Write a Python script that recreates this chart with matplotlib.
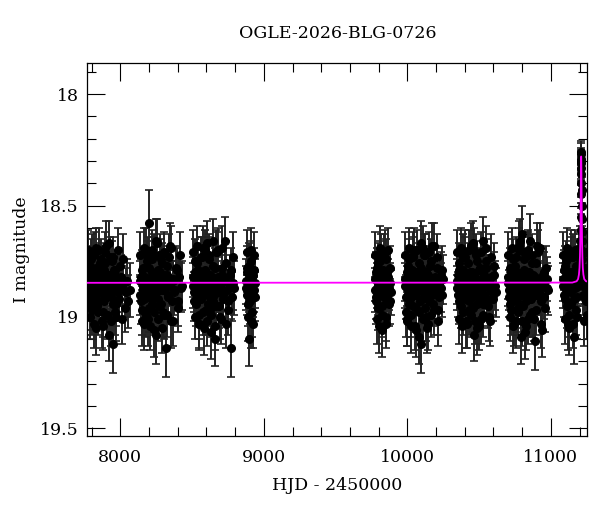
import numpy as np
import matplotlib.pyplot as plt
from matplotlib.ticker import MultipleLocator

plt.rcParams['font.family'] = ['DejaVu Serif']

# Photometry per observing season: (HJD - 2450000, I mag, error)
season_1 = [(7772, 18.85, 0.08), (7778, 18.79, 0.09), (7783, 18.92, 0.10), (7789, 18.88, 0.08),
            (7795, 18.74, 0.09), (7801, 18.83, 0.07), (7806, 18.97, 0.11), (7812, 18.86, 0.08),
            (7818, 18.81, 0.07), (7823, 18.90, 0.09), (7829, 18.78, 0.08), (7835, 18.95, 0.10),
            (7840, 18.84, 0.07), (7846, 18.87, 0.09), (7852, 18.70, 0.10), (7858, 18.89, 0.08),
            (7863, 18.82, 0.07), (7869, 19.02, 0.12), (7875, 18.85, 0.08), (7881, 18.80, 0.09),
            (7886, 18.93, 0.10), (7892, 18.76, 0.08), (7898, 18.88, 0.07), (7904, 18.84, 0.09),
            (7909, 18.99, 0.11), (7915, 18.81, 0.08), (7921, 18.86, 0.07), (7927, 18.73, 0.09),
            (7932, 18.91, 0.10), (7938, 18.83, 0.08), (7944, 18.87, 0.07), (7950, 19.12, 0.13),
            (7956, 18.79, 0.08), (7962, 18.85, 0.09), (7969, 18.94, 0.10), (7977, 18.82, 0.08),
            (7986, 18.89, 0.09), (7998, 18.77, 0.08), (8012, 18.86, 0.09), (8030, 18.96, 0.11),
            (8048, 18.84, 0.10), (8066, 18.88, 0.12),
            (7775, 18.81, 0.09), (7781, 18.90, 0.10), (7786, 18.86, 0.08), (7792, 18.77, 0.09),
            (7798, 18.95, 0.11), (7803, 18.84, 0.08), (7809, 18.88, 0.09), (7815, 18.72, 0.10),
            (7820, 18.92, 0.09), (7826, 18.83, 0.08), (7832, 19.05, 0.12), (7837, 18.87, 0.09),
            (7843, 18.80, 0.08), (7849, 18.93, 0.10), (7855, 18.85, 0.08), (7860, 18.76, 0.09),
            (7866, 18.89, 0.09), (7872, 18.82, 0.08), (7878, 18.98, 0.11), (7883, 18.86, 0.08),
            (7889, 18.79, 0.09), (7895, 18.91, 0.10), (7901, 18.68, 0.11), (7906, 18.87, 0.08),
            (7912, 18.84, 0.09), (7918, 19.08, 0.12), (7924, 18.81, 0.08), (7930, 18.90, 0.10),
            (7935, 18.85, 0.08), (7941, 18.75, 0.09), (7947, 18.94, 0.10), (7953, 18.83, 0.09),
            (7959, 18.88, 0.09), (7966, 18.79, 0.09), (7973, 19.00, 0.11), (7981, 18.86, 0.09),
            (7992, 18.92, 0.10), (8005, 18.82, 0.10), (8021, 18.74, 0.11), (8039, 18.89, 0.11),
            (8057, 18.93, 0.12),
            (7777, 18.70, 0.09), (7791, 19.00, 0.10), (7805, 18.72, 0.09), (7819, 19.03, 0.11),
            (7834, 18.69, 0.09), (7848, 18.98, 0.10), (7862, 18.74, 0.09), (7877, 19.04, 0.11),
            (7891, 18.71, 0.09), (7905, 18.99, 0.10), (7920, 18.67, 0.10), (7934, 19.02, 0.11),
            (7949, 18.73, 0.09), (7964, 18.98, 0.10), (7983, 18.70, 0.10), (8015, 19.01, 0.11)]
season_2 = [(8137, 18.90, 0.09), (8143, 18.82, 0.08), (8149, 18.97, 0.11), (8155, 18.86, 0.07),
            (8161, 18.78, 0.09), (8167, 18.92, 0.10), (8172, 18.84, 0.08), (8178, 18.88, 0.07),
            (8184, 18.75, 0.09), (8190, 19.01, 0.12), (8195, 18.83, 0.08), (8200, 18.58, 0.15),
            (8206, 18.87, 0.08), (8212, 18.91, 0.09), (8218, 18.80, 0.07), (8224, 18.94, 0.10),
            (8230, 18.85, 0.08), (8236, 18.72, 0.09), (8242, 18.89, 0.07), (8248, 19.08, 0.13),
            (8254, 18.83, 0.08), (8260, 18.86, 0.09), (8266, 18.79, 0.08), (8272, 18.95, 0.10),
            (8278, 18.88, 0.07), (8284, 18.74, 0.09), (8290, 18.84, 0.08), (8297, 18.98, 0.11),
            (8304, 18.81, 0.08), (8311, 18.87, 0.09), (8318, 19.14, 0.13), (8326, 18.77, 0.09),
            (8334, 18.90, 0.08), (8342, 18.85, 0.09), (8351, 18.69, 0.10), (8360, 18.93, 0.10),
            (8370, 18.83, 0.08), (8381, 18.88, 0.09), (8393, 18.79, 0.10), (8405, 18.96, 0.11),
            (8417, 18.72, 0.10), (8429, 18.86, 0.11),
            (8140, 18.84, 0.09), (8146, 18.93, 0.10), (8152, 18.79, 0.09), (8158, 18.88, 0.08),
            (8164, 19.03, 0.12), (8170, 18.82, 0.08), (8175, 18.87, 0.09), (8181, 18.70, 0.10),
            (8187, 18.91, 0.09), (8192, 18.85, 0.08), (8198, 18.78, 0.09), (8203, 18.96, 0.11),
            (8209, 18.83, 0.08), (8215, 18.89, 0.09), (8221, 18.74, 0.10), (8227, 18.86, 0.08),
            (8233, 19.06, 0.12), (8239, 18.81, 0.08), (8245, 18.90, 0.09), (8251, 18.84, 0.08),
            (8257, 18.67, 0.11), (8263, 18.92, 0.10), (8269, 18.87, 0.08), (8275, 18.80, 0.09),
            (8281, 18.94, 0.10), (8287, 18.83, 0.08), (8294, 18.76, 0.09), (8300, 18.88, 0.09),
            (8307, 18.99, 0.11), (8315, 18.85, 0.09), (8322, 18.81, 0.09), (8330, 18.91, 0.10),
            (8338, 18.73, 0.10), (8346, 18.86, 0.09), (8355, 19.02, 0.12), (8365, 18.84, 0.09),
            (8375, 18.89, 0.10), (8387, 18.78, 0.10), (8399, 18.93, 0.11), (8411, 18.82, 0.10),
            (8423, 18.87, 0.11),
            (8139, 18.72, 0.10), (8153, 19.02, 0.11), (8166, 18.69, 0.09), (8180, 18.99, 0.10),
            (8194, 18.73, 0.09), (8208, 19.04, 0.11), (8222, 18.70, 0.09), (8235, 18.98, 0.10),
            (8249, 18.66, 0.10), (8262, 19.01, 0.10), (8276, 18.72, 0.09), (8291, 19.05, 0.11),
            (8306, 18.71, 0.09), (8324, 18.99, 0.10), (8344, 18.68, 0.10), (8368, 19.02, 0.11)]
season_3 = [(8507, 18.86, 0.10), (8513, 18.93, 0.09), (8519, 18.80, 0.08), (8525, 18.88, 0.07),
            (8531, 18.76, 0.09), (8537, 18.91, 0.10), (8543, 18.84, 0.08), (8549, 18.99, 0.11),
            (8555, 18.82, 0.07), (8561, 18.87, 0.08), (8567, 18.73, 0.09), (8573, 18.90, 0.09),
            (8579, 18.85, 0.07), (8585, 19.05, 0.12), (8591, 18.79, 0.08), (8597, 18.88, 0.08),
            (8603, 18.67, 0.10), (8609, 18.94, 0.10), (8615, 18.83, 0.07), (8621, 18.87, 0.08),
            (8627, 18.81, 0.09), (8633, 18.96, 0.10), (8639, 18.85, 0.07), (8645, 18.77, 0.09),
            (8651, 18.90, 0.08), (8657, 19.10, 0.12), (8663, 18.84, 0.08), (8669, 18.71, 0.10),
            (8676, 18.89, 0.08), (8683, 18.82, 0.09), (8690, 18.95, 0.10), (8698, 18.86, 0.08),
            (8706, 18.78, 0.09), (8714, 18.92, 0.10), (8723, 18.84, 0.08), (8732, 18.66, 0.11),
            (8742, 18.88, 0.09), (8752, 18.97, 0.11), (8763, 18.81, 0.09), (8774, 19.14, 0.13),
            (8783, 18.73, 0.11), (8791, 18.87, 0.12),
            (8510, 18.82, 0.09), (8516, 18.89, 0.09), (8522, 18.75, 0.10), (8528, 18.94, 0.10),
            (8534, 18.85, 0.08), (8540, 18.79, 0.09), (8546, 19.03, 0.12), (8552, 18.87, 0.08),
            (8558, 18.81, 0.09), (8564, 18.92, 0.10), (8570, 18.84, 0.08), (8576, 18.69, 0.10),
            (8582, 18.90, 0.09), (8588, 18.86, 0.08), (8594, 18.97, 0.11), (8600, 18.80, 0.09),
            (8606, 18.88, 0.08), (8612, 18.83, 0.08), (8618, 18.74, 0.10), (8624, 18.91, 0.09),
            (8630, 19.07, 0.12), (8636, 18.85, 0.08), (8642, 18.82, 0.09), (8648, 18.93, 0.10),
            (8654, 18.87, 0.08), (8660, 18.78, 0.09), (8666, 18.95, 0.10), (8672, 18.84, 0.09),
            (8680, 18.70, 0.10), (8687, 18.89, 0.09), (8694, 18.86, 0.09), (8702, 19.01, 0.11),
            (8710, 18.81, 0.09), (8719, 18.90, 0.10), (8728, 18.84, 0.09), (8737, 18.76, 0.10),
            (8747, 18.93, 0.10), (8758, 18.87, 0.10), (8769, 18.79, 0.10), (8779, 18.91, 0.11),
            (8787, 18.85, 0.12),
            (8509, 18.71, 0.10), (8523, 19.00, 0.10), (8536, 18.68, 0.09), (8550, 19.03, 0.11),
            (8563, 18.73, 0.09), (8577, 18.98, 0.10), (8590, 18.70, 0.09), (8604, 19.02, 0.11),
            (8617, 18.72, 0.09), (8631, 18.99, 0.10), (8644, 18.66, 0.10), (8659, 19.04, 0.11),
            (8674, 18.71, 0.09), (8692, 19.00, 0.10), (8712, 18.69, 0.10), (8740, 19.03, 0.11)]
season_4 = [(8876, 18.84, 0.10), (8881, 18.90, 0.09), (8886, 18.78, 0.10), (8891, 18.87, 0.08),
            (8896, 19.10, 0.12), (8901, 18.82, 0.09), (8906, 18.93, 0.10), (8911, 18.75, 0.09),
            (8916, 18.86, 0.08), (8921, 18.98, 0.11), (8926, 18.81, 0.09), (8931, 18.88, 0.10),
            (8935, 18.72, 0.10), (8939, 18.91, 0.11),
            (8878, 18.87, 0.10), (8884, 18.80, 0.09), (8889, 18.94, 0.10), (8894, 18.84, 0.09),
            (8899, 18.77, 0.10), (8904, 18.89, 0.09), (8909, 18.86, 0.09), (8914, 19.02, 0.12),
            (8919, 18.82, 0.09), (8924, 18.90, 0.10), (8929, 18.79, 0.10), (8937, 18.85, 0.11),
            (8880, 18.71, 0.10), (8893, 19.00, 0.11), (8908, 18.70, 0.10), (8923, 19.03, 0.11)]
season_5 = [(9774, 18.88, 0.10), (9779, 18.80, 0.09), (9784, 18.93, 0.10), (9789, 18.84, 0.08),
            (9794, 18.76, 0.09), (9799, 18.90, 0.09), (9804, 19.04, 0.12), (9809, 18.83, 0.08),
            (9814, 18.87, 0.07), (9819, 18.72, 0.09), (9824, 18.95, 0.10), (9829, 18.85, 0.08),
            (9834, 18.79, 0.08), (9839, 18.91, 0.09), (9844, 18.86, 0.07), (9849, 19.00, 0.11),
            (9854, 18.74, 0.09), (9859, 18.88, 0.08), (9864, 18.82, 0.08), (9870, 18.94, 0.10),
            (9876, 18.85, 0.09), (9882, 18.78, 0.10), (9886, 18.89, 0.10),
            (9776, 18.83, 0.10), (9781, 18.91, 0.10), (9786, 18.78, 0.09), (9791, 18.87, 0.09),
            (9796, 18.96, 0.10), (9801, 18.82, 0.09), (9806, 18.86, 0.08), (9811, 18.75, 0.09),
            (9816, 18.90, 0.09), (9821, 18.84, 0.08), (9826, 19.06, 0.12), (9831, 18.80, 0.09),
            (9836, 18.88, 0.08), (9841, 18.85, 0.08), (9846, 18.71, 0.10), (9851, 18.92, 0.10),
            (9856, 18.83, 0.09), (9861, 18.89, 0.09), (9867, 18.79, 0.09), (9873, 18.87, 0.10),
            (9879, 18.93, 0.10),
            (9778, 18.72, 0.10), (9792, 19.01, 0.11), (9808, 18.69, 0.10), (9823, 18.99, 0.10),
            (9838, 18.73, 0.10), (9853, 19.03, 0.11), (9868, 18.70, 0.10)]
season_6 = [(9983, 18.86, 0.10), (9989, 18.98, 0.11), (9995, 18.80, 0.08), (10001, 19.01, 0.12),
            (10007, 18.88, 0.08), (10013, 18.74, 0.09), (10019, 18.92, 0.10), (10025, 18.84, 0.07),
            (10031, 18.79, 0.08), (10037, 18.95, 0.10), (10043, 18.87, 0.08), (10049, 18.70, 0.10),
            (10055, 18.90, 0.09), (10061, 19.06, 0.12), (10067, 18.83, 0.07), (10073, 18.88, 0.08),
            (10079, 18.76, 0.09), (10085, 18.93, 0.10), (10091, 18.85, 0.07), (10097, 19.12, 0.13),
            (10103, 18.81, 0.08), (10109, 18.89, 0.08), (10115, 18.72, 0.09), (10121, 18.96, 0.10),
            (10127, 18.86, 0.07), (10133, 18.80, 0.08), (10139, 18.91, 0.09), (10145, 19.03, 0.12),
            (10152, 18.84, 0.08), (10159, 18.77, 0.09), (10166, 18.88, 0.08), (10173, 18.68, 0.10),
            (10181, 18.94, 0.10), (10189, 18.83, 0.08), (10197, 18.89, 0.09), (10205, 18.78, 0.09),
            (10214, 18.97, 0.11), (10223, 18.85, 0.09), (10232, 18.81, 0.10), (10240, 18.90, 0.10),
            (10248, 18.83, 0.11),
            (9986, 18.83, 0.10), (9992, 18.91, 0.10), (9998, 18.86, 0.09), (10004, 18.77, 0.09),
            (10010, 18.94, 0.10), (10016, 18.82, 0.08), (10022, 18.88, 0.09), (10028, 19.04, 0.12),
            (10034, 18.85, 0.08), (10040, 18.72, 0.10), (10046, 18.90, 0.09), (10052, 18.84, 0.08),
            (10058, 18.80, 0.09), (10064, 18.96, 0.11), (10070, 18.87, 0.08), (10076, 18.82, 0.09),
            (10082, 19.09, 0.12), (10088, 18.86, 0.08), (10094, 18.78, 0.09), (10100, 18.92, 0.10),
            (10106, 18.85, 0.08), (10112, 18.69, 0.10), (10118, 18.89, 0.09), (10124, 18.83, 0.08),
            (10130, 19.00, 0.11), (10136, 18.87, 0.09), (10142, 18.81, 0.09), (10149, 18.93, 0.10),
            (10156, 18.85, 0.09), (10163, 18.75, 0.10), (10170, 18.90, 0.09), (10177, 18.86, 0.09),
            (10185, 18.97, 0.11), (10193, 18.82, 0.09), (10201, 18.88, 0.10), (10210, 18.73, 0.10),
            (10219, 18.91, 0.10), (10228, 18.84, 0.10), (10236, 18.87, 0.11), (10244, 18.79, 0.11),
            (9985, 18.72, 0.10), (9999, 19.02, 0.11), (10012, 18.69, 0.09), (10026, 18.99, 0.10),
            (10039, 18.73, 0.09), (10053, 19.04, 0.11), (10066, 18.70, 0.09), (10080, 18.98, 0.10),
            (10093, 18.67, 0.10), (10107, 19.01, 0.10), (10120, 18.72, 0.09), (10135, 19.05, 0.11),
            (10150, 18.71, 0.09), (10168, 18.99, 0.10), (10188, 18.68, 0.10), (10216, 19.02, 0.11)]
season_7 = [(10345, 18.87, 0.10), (10351, 18.81, 0.09), (10357, 18.93, 0.10), (10363, 18.76, 0.09),
            (10369, 18.89, 0.08), (10375, 18.84, 0.07), (10381, 19.04, 0.12), (10387, 18.79, 0.08),
            (10393, 18.90, 0.09), (10399, 18.85, 0.07), (10405, 18.71, 0.10), (10411, 18.92, 0.09),
            (10417, 18.83, 0.07), (10423, 18.88, 0.08), (10429, 18.97, 0.11), (10435, 18.80, 0.08),
            (10441, 18.86, 0.07), (10447, 18.68, 0.10), (10453, 18.91, 0.09), (10459, 18.84, 0.08),
            (10465, 19.08, 0.12), (10471, 18.82, 0.08), (10477, 18.87, 0.07), (10483, 18.75, 0.09),
            (10489, 18.94, 0.10), (10495, 18.85, 0.07), (10501, 18.79, 0.08), (10507, 18.89, 0.09),
            (10514, 19.01, 0.11), (10521, 18.83, 0.08), (10528, 18.66, 0.11), (10535, 18.90, 0.09),
            (10543, 18.86, 0.08), (10551, 18.78, 0.09), (10559, 18.95, 0.10), (10568, 18.84, 0.08),
            (10577, 18.88, 0.09), (10586, 18.73, 0.10), (10596, 18.92, 0.10), (10606, 18.81, 0.10),
            (10617, 18.89, 0.11),
            (10348, 18.84, 0.10), (10354, 18.90, 0.10), (10360, 18.79, 0.09), (10366, 18.87, 0.09),
            (10372, 18.95, 0.10), (10378, 18.82, 0.08), (10384, 18.86, 0.09), (10390, 18.73, 0.10),
            (10396, 18.91, 0.09), (10402, 18.85, 0.08), (10408, 19.02, 0.12), (10414, 18.81, 0.08),
            (10420, 18.88, 0.09), (10426, 18.76, 0.09), (10432, 18.93, 0.10), (10438, 18.84, 0.08),
            (10444, 18.87, 0.09), (10450, 18.80, 0.09), (10456, 18.96, 0.11), (10462, 18.85, 0.08),
            (10468, 18.70, 0.10), (10474, 18.89, 0.09), (10480, 18.83, 0.08), (10486, 19.05, 0.12),
            (10492, 18.86, 0.09), (10498, 18.91, 0.10), (10504, 18.78, 0.09), (10510, 18.84, 0.08),
            (10517, 18.88, 0.09), (10524, 18.94, 0.10), (10531, 18.81, 0.09), (10539, 18.86, 0.09),
            (10547, 18.75, 0.10), (10555, 18.92, 0.10), (10563, 18.85, 0.09), (10572, 19.00, 0.11),
            (10581, 18.82, 0.10), (10591, 18.89, 0.10), (10601, 18.77, 0.10), (10611, 18.86, 0.11),
            (10347, 18.71, 0.10), (10361, 19.01, 0.11), (10374, 18.69, 0.09), (10388, 18.98, 0.10),
            (10401, 18.73, 0.09), (10415, 19.03, 0.11), (10428, 18.70, 0.09), (10442, 18.99, 0.10),
            (10455, 18.67, 0.10), (10469, 19.02, 0.10), (10482, 18.72, 0.09), (10497, 19.04, 0.11),
            (10512, 18.71, 0.09), (10530, 18.99, 0.10), (10550, 18.69, 0.10), (10578, 19.02, 0.11)]
season_8 = [(10701, 18.85, 0.10), (10707, 18.91, 0.09), (10713, 18.78, 0.09), (10719, 18.88, 0.08),
            (10725, 18.97, 0.11), (10731, 18.82, 0.07), (10737, 18.74, 0.09), (10743, 18.89, 0.08),
            (10749, 18.84, 0.07), (10755, 19.02, 0.12), (10761, 18.80, 0.08), (10767, 18.93, 0.10),
            (10773, 18.86, 0.07), (10779, 18.70, 0.10), (10785, 18.90, 0.09), (10791, 18.83, 0.07),
            (10797, 18.63, 0.13), (10803, 18.95, 0.10), (10809, 18.87, 0.08), (10815, 18.79, 0.08),
            (10821, 19.07, 0.12), (10827, 18.84, 0.07), (10833, 18.89, 0.08), (10839, 18.72, 0.10),
            (10845, 18.92, 0.09), (10851, 18.85, 0.07), (10857, 18.66, 0.12), (10863, 18.88, 0.08),
            (10870, 18.98, 0.11), (10877, 18.81, 0.08), (10884, 18.87, 0.08), (10891, 19.11, 0.13),
            (10899, 18.76, 0.09), (10907, 18.90, 0.09), (10915, 18.84, 0.08), (10924, 18.69, 0.11),
            (10933, 18.93, 0.10), (10942, 18.86, 0.08), (10951, 18.80, 0.09), (10961, 18.96, 0.11),
            (10970, 18.83, 0.10), (10979, 18.88, 0.11),
            (10704, 18.82, 0.10), (10710, 18.88, 0.09), (10716, 18.94, 0.10), (10722, 18.80, 0.09),
            (10728, 18.86, 0.08), (10734, 19.04, 0.12), (10740, 18.84, 0.08), (10746, 18.91, 0.09),
            (10752, 18.77, 0.09), (10758, 18.87, 0.08), (10764, 18.83, 0.08), (10770, 18.96, 0.11),
            (10776, 18.68, 0.11), (10782, 18.89, 0.09), (10788, 18.85, 0.08), (10794, 19.09, 0.12),
            (10800, 18.81, 0.09), (10806, 18.90, 0.09), (10812, 18.74, 0.10), (10818, 18.86, 0.08),
            (10824, 18.93, 0.10), (10830, 18.83, 0.08), (10836, 18.88, 0.09), (10842, 19.01, 0.11),
            (10848, 18.80, 0.09), (10854, 18.87, 0.08), (10860, 18.92, 0.10), (10866, 18.76, 0.09),
            (10873, 18.85, 0.09), (10880, 18.90, 0.10), (10887, 18.82, 0.09), (10895, 18.97, 0.11),
            (10903, 18.86, 0.09), (10911, 18.71, 0.10), (10919, 18.89, 0.10), (10928, 18.84, 0.09),
            (10937, 19.06, 0.12), (10946, 18.81, 0.10), (10956, 18.91, 0.10), (10966, 18.78, 0.10),
            (10975, 18.87, 0.11),
            (10703, 18.72, 0.10), (10717, 19.00, 0.11), (10730, 18.69, 0.09), (10744, 19.03, 0.10),
            (10757, 18.73, 0.09), (10771, 18.98, 0.10), (10784, 18.66, 0.10), (10798, 19.02, 0.11),
            (10811, 18.71, 0.09), (10825, 19.04, 0.11), (10838, 18.70, 0.09), (10853, 18.99, 0.10),
            (10868, 18.72, 0.09), (10886, 19.01, 0.10), (10906, 18.68, 0.10), (10934, 19.03, 0.11)]
season_9 = [(11084, 18.86, 0.10), (11090, 18.79, 0.09), (11096, 18.92, 0.10), (11102, 18.84, 0.08),
            (11108, 18.75, 0.09), (11114, 18.89, 0.08), (11120, 19.03, 0.12), (11126, 18.82, 0.08),
            (11132, 18.88, 0.07), (11138, 18.71, 0.10), (11144, 18.94, 0.10), (11150, 18.85, 0.07),
            (11156, 18.80, 0.08), (11162, 19.09, 0.12), (11168, 18.87, 0.08), (11174, 18.77, 0.09),
            (11180, 18.91, 0.09), (11186, 18.83, 0.08), (11192, 18.86, 0.08), (11197, 18.81, 0.08),
            (11201, 18.76, 0.08), (11204, 18.72, 0.07), (11206, 18.66, 0.07), (11208, 18.55, 0.06),
            (11209, 18.45, 0.06), (11210, 18.36, 0.05), (11211, 18.29, 0.05), (11212, 18.27, 0.05),
            (11213, 18.33, 0.05), (11214, 18.43, 0.06), (11216, 18.56, 0.06), (11218, 18.66, 0.07),
            (11220, 18.74, 0.08), (11223, 18.79, 0.08), (11227, 18.90, 0.09), (11232, 18.84, 0.08),
            (11238, 18.78, 0.09), (11244, 18.93, 0.10), (11250, 18.86, 0.10),
            (11087, 18.83, 0.10), (11093, 18.90, 0.10), (11099, 18.77, 0.09), (11105, 18.87, 0.09),
            (11111, 18.95, 0.10), (11117, 18.82, 0.08), (11123, 18.86, 0.09), (11129, 19.05, 0.12),
            (11135, 18.80, 0.09), (11141, 18.89, 0.09), (11147, 18.84, 0.08), (11153, 18.73, 0.10),
            (11159, 18.92, 0.10), (11165, 18.85, 0.08), (11171, 18.81, 0.09), (11177, 18.97, 0.11),
            (11183, 18.86, 0.09), (11189, 18.79, 0.09), (11195, 18.84, 0.08), (11199, 18.78, 0.08),
            (11203, 18.74, 0.08), (11205, 18.69, 0.07), (11207, 18.61, 0.07), (11209.5, 18.40, 0.06),
            (11210.5, 18.31, 0.05), (11211.5, 18.26, 0.05), (11212.5, 18.30, 0.05), (11215, 18.50, 0.06),
            (11217, 18.62, 0.07), (11219, 18.71, 0.07), (11222, 18.80, 0.08), (11225, 18.86, 0.09),
            (11230, 18.81, 0.09), (11235, 18.92, 0.10), (11241, 18.85, 0.09), (11247, 18.79, 0.10),
            (11253, 18.88, 0.10),
            (11086, 18.72, 0.10), (11100, 19.01, 0.11), (11113, 18.69, 0.09), (11127, 18.99, 0.10),
            (11140, 18.73, 0.09), (11154, 19.03, 0.11), (11167, 18.70, 0.09), (11181, 19.00, 0.10),
            (11193, 18.72, 0.09), (11229, 19.02, 0.11), (11243, 18.71, 0.10), (11251, 18.99, 0.11)]

# model fit (point-lens curve)
model_t = [7700, 11150, 11180, 11190, 11196, 11200, 11203, 11205, 11207, 11209, 11210,
           11211, 11212, 11213, 11214, 11216, 11218, 11220, 11223, 11227, 11233, 11245, 11300]
model_m = [18.847, 18.846, 18.840, 18.830, 18.810, 18.780, 18.730, 18.670, 18.570, 18.420, 18.340,
           18.280, 18.280, 18.340, 18.420, 18.570, 18.670, 18.730, 18.780, 18.810, 18.830, 18.840, 18.846]

seasons = [season_1, season_2, season_3, season_4, season_5, season_6, season_7, season_8, season_9]

fig = plt.figure(figsize=(6.0, 5.12), dpi=100)
ax = fig.add_axes([0.1455, 0.1475, 0.8335, 0.7295])

for s in seasons:
    d = np.array(s)
    ax.errorbar(d[:, 0], d[:, 1], yerr=d[:, 2], fmt='o', color='black', ms=5.5,
                ecolor='#222222', elinewidth=1.4, capsize=2.8, capthick=1.2, zorder=2)

ax.plot(model_t, model_m, color='#ff00ff', lw=1.3, zorder=3)

ax.set_xlim(7770, 11255)
ax.set_ylim(19.537, 17.86)
ax.xaxis.set_major_locator(MultipleLocator(1000))
ax.xaxis.set_minor_locator(MultipleLocator(200))
ax.yaxis.set_major_locator(MultipleLocator(0.5))
ax.yaxis.set_minor_locator(MultipleLocator(0.1))
ax.yaxis.set_major_formatter(plt.FuncFormatter(lambda v, p: ('%g' % v)))
ax.tick_params(which='both', direction='in', top=True, right=True, labelsize=12.5, width=0.8)
ax.tick_params(which='major', length=13)
ax.tick_params(which='minor', length=6.5)
ax.tick_params(axis='x', which='major', pad=9)
ax.tick_params(axis='y', which='major', pad=6)
for sp in ax.spines.values():
    sp.set_linewidth(0.9)

ax.set_xlabel('HJD - 2450000', fontsize=12.5, labelpad=8)
ax.set_ylabel('I magnitude', fontsize=12.5, labelpad=7)
ax.set_title('OGLE-2026-BLG-0726', fontsize=12.5, pad=18)

fig.savefig('out.png', dpi=100)
